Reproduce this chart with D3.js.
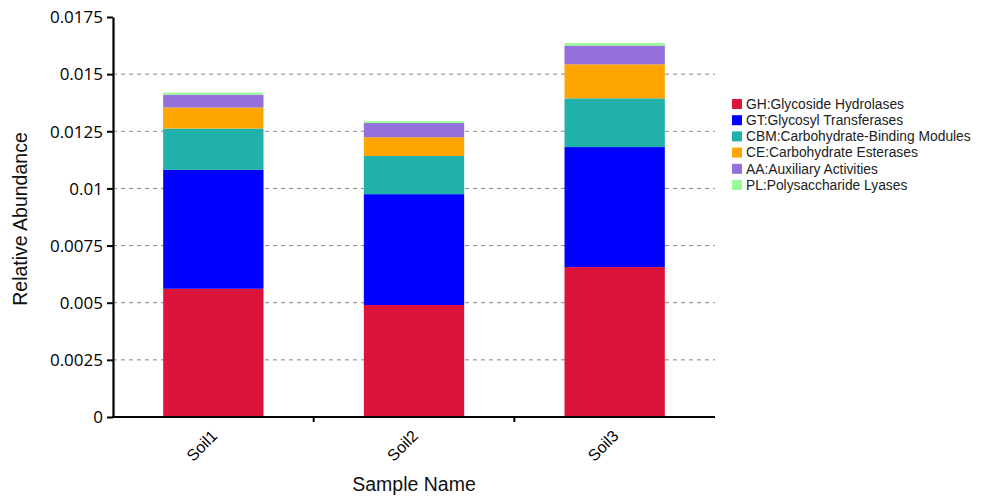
<!DOCTYPE html>
<html>
<head>
<meta charset="utf-8">
<script src="https://cdn.jsdelivr.net/npm/d3@7"></script>
<style>
  body { margin: 0; background: #fff; }
  svg { display: block; }
</style>
</head>
<body>
<svg id="chart" width="982" height="497"></svg>
<script>
const samples = ["Soil1", "Soil2", "Soil3"];
const seriesNames = [
  "GH:Glycoside Hydrolases",
  "GT:Glycosyl Transferases",
  "CBM:Carbohydrate-Binding Modules",
  "CE:Carbohydrate Esterases",
  "AA:Auxiliary Activities",
  "PL:Polysaccharide Lyases"
];
const GH  = [0.00561, 0.00490, 0.00656];
const GT  = [0.00520, 0.00485, 0.00525];
const CBM = [0.00181, 0.00167, 0.00213];
const CE  = [0.00092, 0.00082, 0.00149];
const AA  = [0.00056, 0.00062, 0.00082];
const PL  = [0.00009, 0.00008, 0.00011];
const seriesColors = ["#DC143C", "#0000FF", "#20B2AA", "#FFA500", "#9370DB", "#98FB98"];
const yTicks = [0, 0.0025, 0.005, 0.0075, 0.01, 0.0125, 0.015, 0.0175];
const yTickLabels = ["0", "0.0025", "0.005", "0.0075", "0.01", "0.0125", "0.015", "0.0175"];

const seriesValues = [GH, GT, CBM, CE, AA, PL];
const table = samples.map((s, i) => {
  const row = { sample: s };
  seriesNames.forEach((n, j) => row[n] = seriesValues[j][i]);
  return row;
});

const svg = d3.select("#chart");
const x0 = 113, x1 = 715, yBottom = 417, yTop = 17;
const x = d3.scaleBand().domain(samples).range([x0, x1]).padding(0);
const y = d3.scaleLinear().domain([0, 0.0175]).range([yBottom, yTop]);

// gridlines
svg.append("g").selectAll("line")
  .data(yTicks.filter(t => t > 0 && t < 0.0175))
  .join("line")
  .attr("x1", x0).attr("x2", x1)
  .attr("y1", d => y(d)).attr("y2", d => y(d))
  .attr("stroke", "#888").attr("stroke-width", 1)
  .attr("stroke-dasharray", "4,4");

// stacked bars
const stack = d3.stack().keys(seriesNames);
const stacked = stack(table);
const bw = x.bandwidth();
svg.append("g").selectAll("g")
  .data(stacked)
  .join("g")
  .attr("fill", (d, i) => seriesColors[i])
  .selectAll("rect")
  .data(d => d)
  .join("rect")
  .attr("x", d => x(d.data.sample) + bw * 0.25)
  .attr("width", bw * 0.5)
  .attr("y", d => y(d[1]))
  .attr("height", d => y(d[0]) - y(d[1]));

// y axis
const yAxis = d3.axisLeft(y).tickValues(yTicks)
  .tickFormat((d, i) => yTickLabels[i]).tickSize(6).tickSizeOuter(0);
const gy = svg.append("g").attr("transform", `translate(${x0},0)`).call(yAxis);
gy.select(".domain").attr("stroke", "#000").attr("stroke-width", 2.2);
gy.selectAll(".tick line").attr("stroke", "#000").attr("stroke-width", 2);
gy.selectAll(".tick text").attr("font-family", "'Open Sans', 'Liberation Sans', Arial, sans-serif")
  .attr("font-size", 17).attr("fill", "#000").attr("dx", -1).attr("dy", "0.34em");

// x axis
const gx = svg.append("g").attr("transform", `translate(0,${yBottom})`);
gx.append("line").attr("x1", x0 - 1).attr("x2", x1).attr("y1", 0).attr("y2", 0)
  .attr("stroke", "#000").attr("stroke-width", 2.2);
gx.selectAll(".bound").data(samples.slice(1)).join("line")
  .attr("class", "bound")
  .attr("x1", d => x(d)).attr("x2", d => x(d))
  .attr("y1", 0).attr("y2", 5)
  .attr("stroke", "#000").attr("stroke-width", 2);
gx.selectAll(".xl").data(samples).join("text")
  .attr("class", "xl")
  .attr("transform", d => `translate(${x(d) + bw / 2 + 5},${20}) rotate(-45)`)
  .attr("text-anchor", "end")
  .attr("font-family", "'Liberation Sans', Arial, sans-serif")
  .attr("font-size", 16).attr("fill", "#000")
  .text(d => d);

// axis titles
svg.append("text")
  .attr("transform", `translate(27,${(yTop + yBottom) / 2 + 2}) rotate(-90)`)
  .attr("text-anchor", "middle")
  .attr("font-family", "'Liberation Sans', Arial, sans-serif")
  .attr("font-size", 19.5).attr("fill", "#111")
  .text("Relative Abundance");
svg.append("text")
  .attr("x", 414).attr("y", 491)
  .attr("text-anchor", "middle")
  .attr("font-family", "'Liberation Sans', Arial, sans-serif")
  .attr("font-size", 19.5).attr("fill", "#111")
  .text("Sample Name");

// legend
const lg = svg.append("g").attr("transform", "translate(732,99)");
const items = lg.selectAll("g").data(seriesNames).join("g")
  .attr("transform", (d, i) => `translate(0,${i * 16.2})`);
items.append("rect").attr("width", 10).attr("height", 10)
  .attr("fill", (d, i) => seriesColors[i]);
items.append("text").attr("x", 14).attr("y", 5).attr("dy", "0.35em")
  .attr("font-family", "'Liberation Sans', Arial, sans-serif")
  .attr("font-size", 13.8).attr("fill", "#222")
  .text(d => d);
</script>
</body>
</html>
